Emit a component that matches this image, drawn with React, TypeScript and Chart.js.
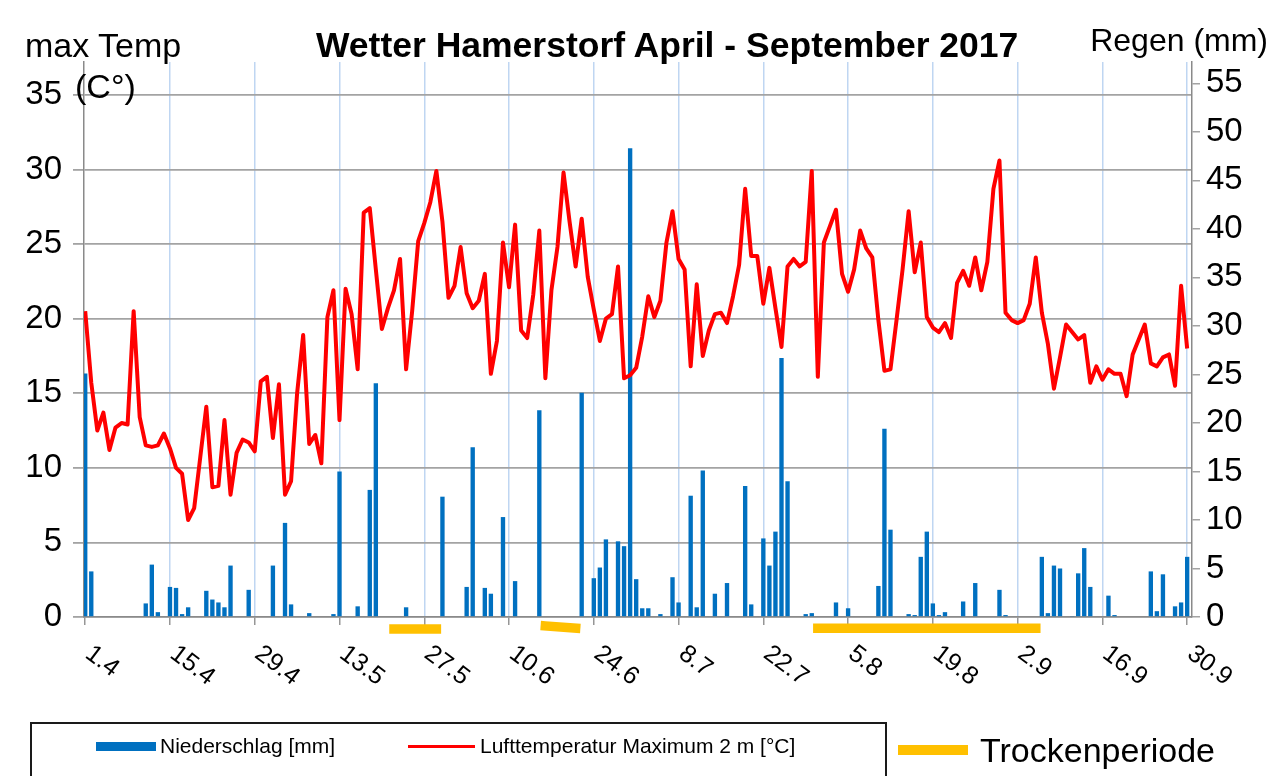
import React, { useEffect, useRef } from "react";
import { Chart, registerables } from "chart.js";

Chart.register(...registerables);

// Daily maximum air temperature 2 m [°C], 1 April – 30 September 2017
const TEMP_APR = [20.5, 15.7, 12.5, 13.7, 11.2, 12.7, 13.0, 12.9, 20.5, 13.4, 11.5, 11.4, 11.5, 12.3, 11.3, 10.0, 9.6, 6.5, 7.3, 10.7, 14.1, 8.7, 8.8, 13.2, 8.2, 11.0, 11.9, 11.7, 11.1, 15.8];
const TEMP_MAY = [16.1, 12.0, 15.6, 8.2, 9.1, 15.0, 18.9, 11.6, 12.2, 10.3, 20.1, 21.9, 13.2, 22.0, 20.3, 16.6, 27.1, 27.4, 23.3, 19.3, 20.7, 21.9, 24.0, 16.6, 20.5, 25.2, 26.4, 27.8, 29.9, 26.5, 21.4];
const TEMP_JUN = [22.2, 24.8, 21.7, 20.7, 21.2, 23.0, 16.3, 18.5, 25.1, 22.1, 26.3, 19.2, 18.7, 21.6, 25.9, 16.0, 21.9, 24.8, 29.8, 26.5, 23.5, 26.7, 22.8, 20.6, 18.5, 20.0, 20.3, 23.5, 16.0, 16.2];
const TEMP_JUL = [16.7, 18.8, 21.5, 20.1, 21.2, 25.1, 27.2, 24.0, 23.3, 16.8, 22.3, 17.5, 19.2, 20.3, 20.4, 19.7, 21.5, 23.6, 28.7, 24.2, 24.2, 21.0, 23.4, 20.7, 18.1, 23.5, 24.0, 23.5, 23.8, 29.9, 16.1];
const TEMP_AUG = [25.1, 26.2, 27.3, 23.0, 21.8, 23.3, 25.9, 24.7, 24.1, 19.9, 16.5, 16.6, 19.9, 23.3, 27.2, 23.1, 25.1, 20.1, 19.4, 19.1, 19.7, 18.7, 22.4, 23.2, 22.2, 24.1, 21.9, 23.8, 28.7, 30.6, 20.4];
const TEMP_SEP = [19.9, 19.7, 19.9, 21.0, 24.1, 20.4, 18.3, 15.3, 17.4, 19.6, 19.1, 18.6, 18.9, 15.7, 16.8, 15.9, 16.6, 16.3, 16.3, 14.8, 17.6, 18.6, 19.6, 17.0, 16.8, 17.4, 17.6, 15.5, 22.2, 18.0];

// Daily precipitation [mm]
const RAIN_APR = [25.1, 4.7, 0, 0, 0, 0, 0, 0, 0, 0, 1.4, 5.4, 0.5, 0, 3.1, 3.0, 0.3, 1.0, 0, 0, 2.7, 1.8, 1.5, 1.0, 5.3, 0, 0, 2.8, 0, 0];
const RAIN_MAY = [0, 5.3, 0, 9.7, 1.3, 0, 0, 0.4, 0, 0, 0, 0.3, 15.0, 0, 0, 1.1, 0, 13.1, 24.1, 0, 0, 0, 0, 1.0, 0, 0, 0, 0, 0, 12.4, 0];
const RAIN_JUN = [0, 0, 3.1, 17.5, 0, 3.0, 2.4, 0, 10.3, 0, 3.7, 0, 0, 0, 21.3, 0, 0, 0, 0, 0, 0, 23.1, 0, 4.0, 5.1, 8.0, 0, 7.8, 7.3, 48.3];
const RAIN_JUL = [3.9, 0.9, 0.9, 0, 0.3, 0, 4.1, 1.5, 0, 12.5, 1.0, 15.1, 0, 2.4, 0, 3.5, 0, 0, 13.5, 1.3, 0, 8.1, 5.3, 8.8, 26.7, 14.0, 0, 0, 0.3, 0.4, 0];
const RAIN_AUG = [0, 0, 1.5, 0, 0.9, 0, 0, 0, 0, 3.2, 19.4, 9.0, 0, 0, 0.3, 0.2, 6.2, 8.8, 1.4, 0.2, 0.5, 0, 0, 1.6, 0, 3.5, 0, 0, 0, 2.8, 0.2];
const RAIN_SEP = [0, 0, 0, 0, 0, 6.2, 0.4, 5.3, 5.0, 0, 0.1, 4.5, 7.1, 3.1, 0, 0, 2.2, 0.2, 0, 0, 0, 0, 0, 4.7, 0.6, 4.4, 0, 1.1, 1.5, 6.2];

// x-axis tick labels (every 14th day, day index counted from 1 April)
const TICK_DAYS = [0, 14, 28, 42, 56, 70, 84, 98, 112, 126, 140, 154, 168, 182];
const TICK_LABELS = ["1.4", "15.4", "29.4", "13.5", "27.5", "10.6", "24.6", "8.7", "22.7", "5.8", "19.8", "2.9", "16.9", "30.9"];

// Dry periods: [first day, last day, marker level start, marker level end] (temperature axis units)
const DRY_PERIODS = [
  [51, 58, -0.8, -0.8],
  [76, 81, -0.6, -0.75],
  [121, 157, -0.75, -0.75],
];

const FONT = '"Liberation Sans", Arial, Helvetica, sans-serif';

const rotatedXLabels = {
  id: "rotatedXLabels",
  afterDraw(chart: any) {
    const x = chart.scales.x;
    const ctx = chart.ctx;
    ctx.save();
    ctx.font = `25px ${FONT}`;
    ctx.fillStyle = "#000";
    ctx.textAlign = "left";
    ctx.textBaseline = "middle";
    TICK_DAYS.forEach((d, k) => {
      const px = x.getPixelForValue(d);
      ctx.save();
      ctx.translate(px + 3, x.top + 34);
      ctx.rotate((37 * Math.PI) / 180);
      ctx.fillText(TICK_LABELS[k], 0, 0);
      ctx.restore();
    });
    ctx.restore();
  },
};

function Txt(props: { text: string; left?: number; right?: number; cy: number; size: number; bold?: boolean }) {
  const lh = Math.round(props.size * 1.15);
  const style: any = {
    position: "absolute",
    top: props.cy - lh / 2,
    fontFamily: FONT,
    fontSize: props.size,
    lineHeight: `${lh}px`,
    fontWeight: props.bold ? "bold" : "normal",
    whiteSpace: "nowrap",
    color: "#000",
  };
  if (props.left !== undefined) style.left = props.left;
  if (props.right !== undefined) style.right = props.right;
  return <div style={style}>{props.text}</div>;
}

export default function App() {
  const canvasRef = useRef<HTMLCanvasElement>(null);

  useEffect(() => {
    const canvas = canvasRef.current;
    if (!canvas) return;
    const temp = [...TEMP_APR, ...TEMP_MAY, ...TEMP_JUN, ...TEMP_JUL, ...TEMP_AUG, ...TEMP_SEP];
    const rain = [...RAIN_APR, ...RAIN_MAY, ...RAIN_JUN, ...RAIN_JUL, ...RAIN_AUG, ...RAIN_SEP];

    const dryDatasets = DRY_PERIODS.map(([a, b, ya, yb]) => ({
      type: "line" as const,
      label: "Trockenperiode",
      data: [
        { x: a, y: ya },
        { x: b, y: yb },
      ],
      borderColor: "#FFC000",
      borderWidth: 9.5,
      borderCapStyle: "square" as const,
      pointRadius: 0,
      yAxisID: "y",
      clip: false as any,
      order: 0,
    }));

    const chart = new Chart(canvas, {
      type: "bar",
      data: {
        datasets: [
          {
            type: "line",
            label: "Lufttemperatur Maximum 2 m [°C]",
            data: temp.map((y, i) => ({ x: i, y })),
            borderColor: "#FF0000",
            borderWidth: 4,
            pointRadius: 0,
            tension: 0,
            borderJoinStyle: "round",
            yAxisID: "y",
            order: 0,
          } as any,
          ...(dryDatasets as any[]),
          {
            type: "bar",
            label: "Niederschlag [mm]",
            data: rain.map((y, i) => ({ x: i, y })),
            backgroundColor: "#0070C0",
            borderWidth: 0,
            barPercentage: 0.72,
            categoryPercentage: 1,
            yAxisID: "y1",
            order: 1,
          } as any,
        ],
      },
      options: {
        responsive: false,
        maintainAspectRatio: false,
        animation: false,
        devicePixelRatio: 1,
        events: [],
        layout: { padding: { top: 62, left: 0, right: 0, bottom: 0 } },
        plugins: {
          legend: { display: false },
          tooltip: { enabled: false },
          title: { display: false },
        },
        scales: {
          x: {
            type: "linear",
            position: "bottom",
            min: -0.2,
            max: 182.8,
            offset: false,
            afterBuildTicks: (s: any) => {
              s.ticks = TICK_DAYS.map((v) => ({ value: v }));
            },
            afterFit: (s: any) => {
              s.height = 159;
            },
            ticks: { display: false },
            grid: {
              offset: false,
              color: (c: any) => (c.tick && c.tick.value === 0 ? "rgba(0,0,0,0)" : "#BFD6F2"),
              lineWidth: 1.5,
              drawTicks: true,
              tickLength: 8,
              tickColor: "#969696",
              tickWidth: 1.5,
            },
            border: { display: true, color: "#8A8A8A", width: 1.5 },
          } as any,
          y: {
            position: "left",
            min: 0,
            max: 37.2,
            afterFit: (s: any) => {
              s.width = 84;
            },
            ticks: { stepSize: 5, includeBounds: false, color: "#000", font: { family: FONT, size: 33 }, padding: 11 },
            grid: { color: "#A3A3A3", lineWidth: 1.8, tickLength: 11, tickColor: "#A3A3A3" },
            border: { color: "#8A8A8A", width: 1.5 },
          } as any,
          y1: {
            position: "right",
            min: 0,
            max: 57.2,
            afterFit: (s: any) => {
              s.width = 88;
            },
            ticks: { stepSize: 5, includeBounds: false, color: "#000", font: { family: FONT, size: 33 }, padding: 6 },
            grid: { drawOnChartArea: false, tickLength: 8, color: "#A3A3A3", lineWidth: 1.5 },
            border: { color: "#8A8A8A", width: 1.5 },
          } as any,
        },
      },
      plugins: [rotatedXLabels as any],
    });
    return () => chart.destroy();
  }, []);

  return (
    <div
      style={{
        position: "absolute",
        left: 0,
        top: 0,
        width: 1280,
        height: 776,
        overflow: "hidden",
        background: "#fff",
      }}
    >
      <canvas ref={canvasRef} width={1280} height={776} style={{ position: "absolute", left: 0, top: 0 }} />
      <Txt text="Wetter Hamerstorf April - September 2017" left={316} cy={45} size={35.5} bold />
      <Txt text="max Temp" left={25} cy={45} size={34} />
      <Txt text="(C°)" left={75} cy={86} size={34} />
      <Txt text="Regen (mm)" right={12} cy={40} size={32} />

      <div
        style={{
          position: "absolute",
          left: 30,
          top: 722,
          width: 853,
          height: 90,
          border: "2px solid #1a1a1a",
        }}
      />
      <div style={{ position: "absolute", left: 96, top: 742, width: 60, height: 9, background: "#0070C0" }} />
      <Txt text="Niederschlag [mm]" left={160} cy={746} size={21} />
      <div style={{ position: "absolute", left: 408, top: 745, width: 67, height: 3, background: "#FF0000" }} />
      <Txt text="Lufttemperatur Maximum 2 m [°C]" left={480} cy={746} size={21} />
      <div style={{ position: "absolute", left: 898, top: 745, width: 70, height: 10, background: "#FFC000" }} />
      <Txt text="Trockenperiode" left={980} cy={750} size={34} />
    </div>
  );
}
